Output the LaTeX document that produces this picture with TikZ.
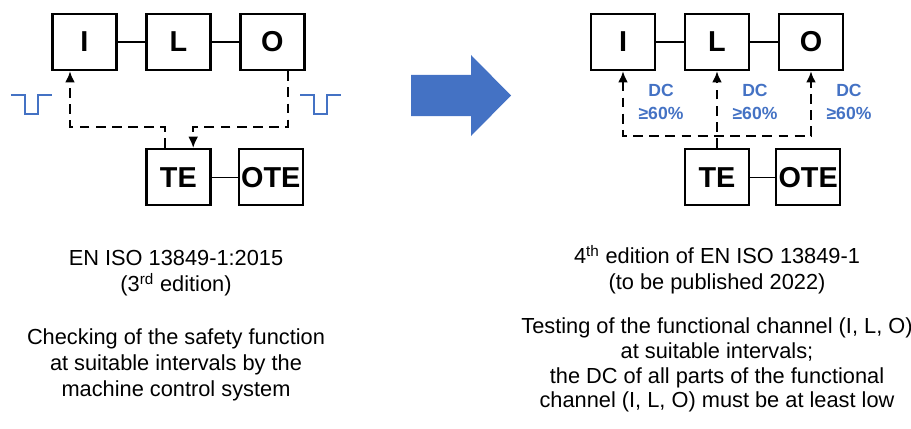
\documentclass[tikz,border=0pt]{standalone}
\usepackage{fontspec}
\setmainfont{Liberation Sans}
\usetikzlibrary{positioning,arrows.meta}
\definecolor{xanh}{HTML}{4472C4}

\tikzset{
  khoi/.style={draw, line width=1.7pt, minimum width=1.6cm, minimum height=1.4cm,
    inner sep=0pt, font=\fontsize{20.5}{24}\selectfont\bfseries},
  noi/.style={line width=0.9pt},
  kiemtra/.style={line width=1.5pt, dash pattern=on 7pt off 4.5pt},
  xung/.style={xanh, line width=1.5pt},
  dc/.style={text=xanh, align=center, font=\fontsize{12.5}{16.3}\selectfont\bfseries},
  chu/.style={align=center, font=\fontsize{15.5}{18.5}\selectfont}
}

\begin{document}
\begin{tikzpicture}[>={Latex[length=8pt,width=7pt]}]
    \useasboundingbox (0,0) rectangle (22.775,10.7);

    % Bên trái: phiên bản 3
    \node[khoi] (I) at (2.11,9.65) {I};
    \node[khoi, right=0.69cm of I] (L) {L};
    \node[khoi, right=0.69cm of L] (O) {O};
    \node[khoi, below=1.92cm of L] (TE) {TE};
    \node[khoi, right=0.65cm of TE] (OTE) {OTE};
    \draw[noi] (I) -- (L) (L) -- (O) (TE) -- (OTE);

    % Đường kiểm tra
    \draw[kiemtra,->] ([xshift=-0.33cm]TE.north) -- ++(0,0.53) -| ([xshift=-0.36cm]I.south);
    \draw[kiemtra,->] ([xshift=0.39cm]O.south) |- ([xshift=0.37cm,yshift=0.53cm]TE.north)
        -- ([xshift=0.37cm]TE.north);

    % Xung thử
    \foreach \dx in {0,7.225}
        \draw[xung, xshift=\dx cm] (0.275,8.325) -- (0.625,8.325) -- (0.625,7.85)
            -- (0.95,7.85) -- (0.95,8.325) -- (1.3,8.325);

    % Mũi tên lớn
    \fill[xanh] (10.275,7.8) -- (11.775,7.8) -- (11.775,7.3) -- (12.775,8.3125)
        -- (11.775,9.325) -- (11.775,8.825) -- (10.275,8.825) -- cycle;

    % Bên phải: phiên bản 4
    \node[khoi] (I2) at (15.575,9.65) {I};
    \node[khoi, right=0.69cm of I2] (L2) {L};
    \node[khoi, right=0.69cm of L2] (O2) {O};
    \node[khoi, below=1.92cm of L2] (TE2) {TE};
    \node[khoi, right=0.62cm of TE2] (OTE2) {OTE};
    \draw[noi] (I2) -- (L2) (L2) -- (O2) (TE2) -- (OTE2);

    \draw[kiemtra,->] (TE2.north) -- (L2.south);
    \draw[kiemtra,<->] (I2.south) |- ([yshift=0.3cm]TE2.north) -| (O2.south);
    \foreach \k in {I2,L2,O2}
        \node[dc] (dc\k) at ([xshift=0.95cm,yshift=-1.49cm]\k.center) {DC\\≥60\%};

    % Chú thích
    \node[chu] (ed3) at (4.4,3.86) {EN ISO 13849-1:2015\\(3\textsuperscript{rd} edition)};
    \node[chu] (mota3) at (4.4,1.575) {Checking of the safety function\\
        at suitable intervals by the\\machine control system};
    \node[chu] (ed4) at (17.925,3.95) {4\textsuperscript{th} edition of EN ISO 13849-1\\
        (to be published 2022)};
    \node[chu, font=\fontsize{15.5}{17.7}\selectfont] (mota4) at (17.925,1.575)
        {Testing of the functional channel (I, L, O)\\at suitable intervals;\\
        the DC of all parts of the functional\\channel (I, L, O) must be at least low};
\end{tikzpicture}
\end{document}
